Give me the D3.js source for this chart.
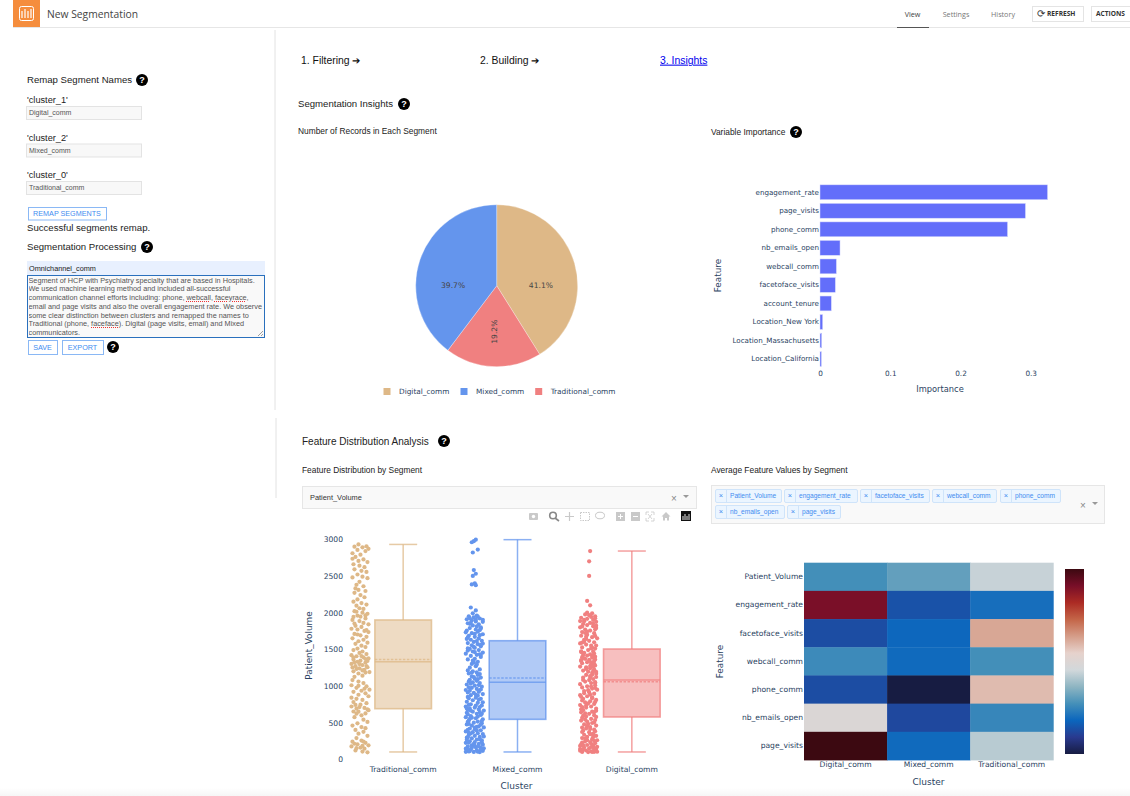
<!DOCTYPE html>
<html>
<head>
<meta charset="utf-8">
<title>New Segmentation</title>
<script src="https://cdn.jsdelivr.net/npm/d3@7"></script>
<style>
  html, body { margin: 0; padding: 0; background: #fff; overflow: hidden; }
  #page { position: relative; width: 1130px; height: 796px; }
  svg { position: absolute; left: 0; top: 0; }
  #notes { position: absolute; left: 28.5px; top: 276.5px; width: 235px; height: 61px; overflow: hidden; white-space: nowrap;
    font: 7.3px/8.8px "Liberation Sans", sans-serif; color: #555; }
  #notes span { text-decoration: underline dotted #e33; }
  .tick text { fill: #2a3f5f; }
</style>
</head>
<body>
<div id="page">
  <svg id="chart" width="1130" height="796"></svg>
  <div id="notes">Segment of HCP with Psychiatry specialty that are based in Hospitals.<br>We used machine learning method and included all-successful<br>communication channel efforts including: phone, <span>webcall</span>, <span>faceyrace</span>,<br>email and page visits and also the overall engagement rate. We observe<br>some clear distinction between clusters and remapped the names to<br>Traditional (phone, <span>faceface</span>). Digital (page visits, email) and Mixed<br>communicators.</div>
</div>
<script>
// segment shares
var pieSegments = ['Digital_comm', 'Traditional_comm', 'Mixed_comm'];
var pieShares = [41.1, 19.2, 39.7];
var legendOrder = ['Digital_comm', 'Mixed_comm', 'Traditional_comm'];
var segmentColors = { Digital_comm: '#deb887', Mixed_comm: '#6495ed', Traditional_comm: '#f08080' };

// variable importance
var importanceFeatures = ['engagement_rate', 'page_visits', 'phone_comm', 'nb_emails_open', 'webcall_comm',
  'facetoface_visits', 'account_tenure', 'Location_New York', 'Location_Massachusetts', 'Location_California'];
var importanceValues = [0.324, 0.2925, 0.267, 0.0285, 0.0233, 0.0218, 0.0161, 0.0038, 0.0024, 0.002];
var importanceTicks = [0, 0.1, 0.2, 0.3];

// box plot, order of the clusters on the axis. The colours really are swapped in the source chart
var boxClusters = ['Traditional_comm', 'Mixed_comm', 'Digital_comm'];
var boxColors = ['#deb887', '#6495ed', '#f08080'];
var boxMin = [100, 100, 100];
var boxQ1 = [690, 545, 577];
var boxMedian = [1330, 1050, 1081];
var boxMean = [1360, 1108, 1058];
var boxQ3 = [1900, 1617, 1504];
var boxMax = [2930, 2995, 2840];
var volumeTicks = [0, 500, 1000, 1500, 2000, 2500, 3000];

// strip points: [Patient_Volume, jitter]
var traditionalPoints = [[2930,-2],[2905,6],[2900,-6],[2890,2],[2870,8],[2855,-3],[2840,5],[2810,-8],[2790,0],[2760,-5],[2735,-8],[2725,3],[2705,-2],[2690,7],[2660,-7],[2640,-1],[2620,4],[2590,-6],[2570,1],[2555,6],[2520,-3],[2490,2],[2480,-8],[2470,7],[2420,-1],[2380,-4],[2360,3],[2330,-5],[2310,-2],[2295,5],[2270,-6],[2240,0],[2210,4],[2180,-3],[2150,-7],[2130,1],[2110,6],[2095,-4],[2060,-1],[2050,3],[2020,-6],[2000,2],[1985,7],[1960,-3],[1945,0],[1920,5],[1900,-8],[1885,-1],[1860,3],[1840,8],[1820,-5],[1805,1],[1780,-9],[1770,-3],[1750,4],[1735,8],[1710,-6],[1690,0],[1670,6],[1650,-8],[1630,3],[1610,-2],[1590,7],[1575,-5],[1550,1],[1530,5],[1510,-3],[1490,-7],[1470,2],[1450,-1],[1435,6],[1420,-9],[1405,-4],[1390,3],[1375,8],[1360,-7],[1345,0],[1330,-3],[1320,5],[1300,-9],[1285,2],[1270,-5],[1255,7],[1240,-1],[1220,4],[1200,-7],[1190,9],[1170,-2],[1140,2],[1125,-6],[1080,-8],[1060,-2],[1040,3],[1010,-9],[995,6],[975,-4],[950,9],[935,1],[920,-7],[900,5],[880,-2],[860,8],[840,-9],[825,-4],[810,2],[780,-7],[765,6],[745,0],[720,-9],[700,4],[690,-4],[670,8],[650,-2],[625,5],[600,1],[575,-6],[540,3],[510,7],[490,-3],[460,-8],[440,1],[425,5],[400,-5],[375,3],[350,-2],[320,7],[290,-4],[255,1],[240,-8],[225,5],[205,-3],[190,8],[175,-9],[160,0],[145,4],[120,-5],[105,2],[95,7],
  [1408,1],[1388,-7],[1368,5],[1342,7],[1322,-6],[1298,-1],[1272,6],[1252,-8],[1232,-4],[1212,2],[1182,5],[1702,-3],[1762,6],[1852,-6],[1942,-7],[742,-5],[712,-1],[682,7],[652,-7],[622,-4],[242,3],[212,-6],[182,2],[152,-4],[962,4],[1002,-2],[1962,5],[2012,-4]];
var mixedPoints = [[2995,1],[2975,-1],[2960,-3],[2860,3],[2820,-2],[2580,-1],[2530,1],[2500,-2],[2400,0],[2385,-3],[2375,1],[2070,-4],[2030,1],[1990,-2],[1960,2],[1950,-6],[1935,-1],[1920,5],[1910,-8],[1895,-3],[1880,1],[1875,8],[1855,-7],[1840,4],[1825,-2],[1800,6],[1790,-5],[1770,1],[1755,-8],[1740,3],[1720,-3],[1705,8],[1685,-6],[1670,0],[1650,4],[1630,-4],[1615,7],[1600,-1],[1585,-7],[1570,3],[1555,-3],[1540,6],[1520,0],[1505,-5],[1490,4],[1470,-2],[1455,8],[1440,-9],[1425,2],[1410,-4],[1395,6],[1370,0],[1345,-2],[1330,3],[1300,-3],[1270,1],[1250,-5],[1225,5],[1200,-2],[1185,2],[1170,-6],[1150,3],[1130,-3],[1115,6],[1100,0],[1085,-5],[1070,2],[1050,-2],[1040,5],[1020,-8],[1005,0],[990,7],[975,-3],[960,2],[945,-9],[935,-5],[920,4],[905,-1],[890,8],[875,-4],[850,-7],[840,1],[825,6],[805,-2],[785,-8],[770,3],[750,-4],[735,7],[720,-9],[705,0],[690,-5],[680,4],[665,9],[650,-2],[635,-8],[620,2],[605,6],[590,-4],[575,-9],[560,1],[545,8],[530,-6],[515,3],[500,-1],[490,7],[475,-8],[460,-3],[450,4],[435,9],[420,-5],[410,0],[395,6],[380,-9],[370,-2],[355,3],[345,8],[330,-6],[320,0],[305,5],[295,-8],[285,-3],[270,2],[260,7],[245,-5],[235,0],[225,-9],[210,4],[200,8],[190,-3],[175,-7],[165,1],[155,6],[145,-9],[135,-4],[125,2],[115,8],[108,-6],[100,-1],[98,5],[102,-9],[128,-7],[150,9],[178,4],[228,-6],[268,-8],[312,9],[362,-6],[402,-7],[442,2],[482,-6],[522,7],[568,-3],[612,-7],[642,5],[672,-7],[712,5],[742,-6],[778,8],[832,-6],[868,3],[912,-7],[952,6],[1012,4],[1062,-6],[1162,5],[1212,-7],[1292,2],[1362,-7],[1432,5],[1482,-7],[1532,-1],[1578,8],[1642,-8],[1692,5],[1732,-9],[1782,6],[1848,-5],[1902,8],
  [1945,3],[1925,-5],[1905,1],[1860,-4],[1812,2],[1762,5],[1712,0],[1662,-7],[1612,2],[1562,6],[1512,-7],[1462,0],[1422,6],[1322,-1],[1182,-3],[1122,-1],[1092,3],[1032,-4],[982,-6],[932,4],[882,1],[812,4],[732,1],[692,-8],[662,-4],[622,7],[582,3],[552,-5],[512,-7],[472,6],[432,0],[392,2],[352,-4],[302,-7],[272,5],[232,7],[212,-1],[182,0],[158,-3],[132,6],[112,-5],[104,3]];
var digitalPoints = [[2840,1],[2700,0],[2500,0],[2160,-2],[2100,1],[2000,-2],[1990,3],[1975,-4],[1965,0],[1950,6],[1930,-8],[1915,-2],[1900,4],[1885,-9],[1875,7],[1860,1],[1845,-6],[1830,-2],[1815,4],[1800,-9],[1790,7],[1770,-4],[1755,1],[1735,-7],[1720,5],[1700,-2],[1685,-8],[1665,3],[1650,8],[1630,-5],[1615,0],[1595,5],[1580,-9],[1565,-3],[1550,2],[1525,-7],[1510,6],[1490,-1],[1470,4],[1450,-5],[1430,1],[1415,-2],[1400,6],[1385,3],[1370,-4],[1355,0],[1340,5],[1325,-2],[1310,-7],[1295,2],[1280,6],[1265,-9],[1255,-3],[1240,1],[1225,5],[1210,-6],[1195,-1],[1180,3],[1165,7],[1150,-3],[1135,1],[1115,-6],[1095,4],[1080,0],[1060,-4],[1040,2],[1025,-9],[1010,6],[995,-2],[980,-7],[965,3],[950,8],[930,-5],[915,0],[895,5],[875,-9],[860,-2],[845,3],[825,-6],[810,7],[790,1],[775,-4],[755,5],[740,-9],[720,2],[705,-3],[690,7],[670,-6],[650,3],[640,-8],[620,0],[600,5],[585,-3],[565,-7],[550,2],[535,6],[515,-2],[495,3],[475,-5],[460,7],[440,1],[420,-3],[405,5],[390,-6],[370,0],[350,4],[335,-5],[320,7],[305,-2],[290,-7],[275,3],[260,8],[245,-4],[235,1],[220,6],[205,-8],[195,-2],[185,4],[170,8],[160,-5],[150,0],[140,-9],[130,5],[120,-3],[110,2],[103,8],[100,-7],[98,-1],[102,5],[118,-9],[142,7],[168,2],[192,-6],[228,-7],[262,-2],[302,4],[342,1],[382,6],[432,-7],[482,-1],[528,-8],[578,7],[628,-4],[662,7],[712,-7],[762,-1],[802,-7],[852,-8],[902,-5],[972,6],[1052,6],[1122,7],[1202,4],[1272,1],[1352,-8],[1392,-7],[1422,-6],[1462,-8],[1522,3],[1602,-5],[1672,-3],[1742,-2],[1822,7],[1902,-5],
  [1942,2],[1922,6],[1882,-5],[1852,4],[1812,-7],[1772,6],[1722,-4],[1682,6],[1642,-3],[1592,-7],[1552,7],[1512,2],[1472,-8],[1442,5],[1412,3],[1382,-6],[1362,6],[1342,-8],[1322,2],[1302,5],[1262,4],[1232,-3],[1192,7],[1152,3],[1112,1],[1082,-6],[1042,6],[992,2],[942,-1],[882,1],[832,3],[782,6],[732,-3],[682,-8],[642,5],[592,-6],[542,-4],[502,5],[452,-2],[412,1],[372,-7],[332,4],[282,-4],[252,5],[212,2],[182,-9],[152,5],[132,-6],[112,7],[100,3]];
var stripPoints = [traditionalPoints, mixedPoints, digitalPoints];

// average feature values, scaled 0 to 1
var heatClusters = ['Digital_comm', 'Mixed_comm', 'Traditional_comm'];
var heatFeatures = ['Patient_Volume', 'engagement_rate', 'facetoface_visits', 'webcall_comm', 'phone_comm', 'nb_emails_open', 'page_visits'];
var heatDigital = [0.27, 0.905, 0.13, 0.26, 0.13, 0.49, 1];
var heatMixed = [0.31, 0.14, 0.185, 0.19, 0, 0.12, 0.19];
var heatTraditional = [0.44, 0.2, 0.62, 0.27, 0.585, 0.25, 0.42];
var balanceColors = ['rgb(23,28,66)', 'rgb(41,58,143)', 'rgb(11,102,189)', 'rgb(69,144,185)', 'rgb(142,181,194)', 'rgb(210,216,219)',
  'rgb(230,210,204)', 'rgb(213,157,137)', 'rgb(196,101,72)', 'rgb(172,43,36)', 'rgb(120,14,40)', 'rgb(60,9,17)'];

var plotFont = '"DejaVu Sans", Verdana, sans-serif';
var uiFont = '"Liberation Sans", Arial, sans-serif';
var headFont = '"Open Sans", sans-serif';
var svg = d3.select('#chart');

function label(x, y, str, size, color, font, anchor) {
  return svg.append('text').attr('x', x).attr('y', y).attr('dy', '.35em')
    .attr('text-anchor', anchor || 'start')
    .style('font', size + 'px ' + (font || uiFont))
    .attr('fill', color || '#222').text(str);
}
function helpIcon(x, y) {
  svg.append('circle').attr('cx', x).attr('cy', y).attr('r', 6).attr('fill', '#000');
  label(x, y, '?', 9, '#fff', uiFont, 'middle').style('font', 'bold 9px ' + uiFont);
}
function box(x, y, w, h, fill, stroke) {
  return svg.append('rect').attr('x', x).attr('y', y).attr('width', w).attr('height', h)
    .attr('fill', fill).attr('stroke', stroke).attr('stroke-width', 1);
}
function button(x, y, w, h, str) {
  box(x + 0.5, y + 0.5, w, h, '#fff', '#8ab8f5');
  label(x + w / 2, y + h / 2 + 0.5, str, 7.2, '#3f8cf0', uiFont, 'middle');
}
function rotatedTitle(x, y, str) {
  svg.append('text').attr('transform', 'translate(' + x + ',' + y + ') rotate(-90)')
    .attr('text-anchor', 'middle').style('font', '8.9px ' + plotFont).attr('fill', '#2a3f5f').text(str);
}
function cleanAxis(g, size) {
  g.select('.domain').remove();
  g.selectAll('.tick line').remove();
  g.selectAll('text').style('font', size + 'px ' + plotFont);
}

// top bar
box(13, 0, 27, 27, '#f58d3d', 'none');
box(19.5, 6.5, 14, 14, 'none', '#fff').attr('rx', 2);
[22, 25, 28, 31].forEach(function (x, i) {
  svg.append('line').attr('x1', x).attr('x2', x).attr('y1', i % 2 ? 9 : 11).attr('y2', 18).attr('stroke', '#fff').attr('stroke-width', 1.2);
});
label(47, 14, 'New Segmentation', 10.3, '#444', headFont);
svg.append('line').attr('x1', 13).attr('x2', 1130).attr('y1', 27.5).attr('y2', 27.5).attr('stroke', '#e6e6e6');
svg.append('line').attr('x1', 897).attr('x2', 929).attr('y1', 27.5).attr('y2', 27.5).attr('stroke', '#555');
label(912.5, 14, 'View', 7.2, '#444', headFont, 'middle');
label(956, 14, 'Settings', 7.2, '#777', headFont, 'middle');
label(1003, 14, 'History', 7.2, '#777', headFont, 'middle');
box(1032.5, 6.5, 51, 15, '#fff', '#e4e4e4');
label(1041, 13.5, '⟳', 10, '#333', uiFont, 'middle');
label(1047, 14, 'REFRESH', 6.6, '#333', headFont).style('font', 'bold 6.6px ' + headFont);
box(1091.5, 6.5, 42, 15, '#fff', '#e4e4e4');
label(1096, 14, 'ACTIONS', 6.6, '#333', headFont).style('font', 'bold 6.6px ' + headFont);

// panel dividers
svg.append('line').attr('x1', 275).attr('x2', 275).attr('y1', 30).attr('y2', 410).attr('stroke', '#e2e2e2');
svg.append('line').attr('x1', 276).attr('x2', 276).attr('y1', 418).attr('y2', 498).attr('stroke', '#e2e2e2');

// left panel
label(27, 80, 'Remap Segment Names', 9.6);
helpIcon(142, 80);
var remapKeys = ["'cluster_1'", "'cluster_2'", "'cluster_0'"];
var remapNames = ['Digital_comm', 'Mixed_comm', 'Traditional_comm'];
var remapTop = [106, 143.5, 181];
remapKeys.forEach(function (k, i) {
  label(27, remapTop[i] - 6, k, 9.2);
  box(26.5, remapTop[i] + 0.5, 115, 13, '#f8f8f8', '#e3e3e3');
  label(29, remapTop[i] + 7, remapNames[i], 7, '#555');
});
button(28, 207, 78, 12.5, 'REMAP SEGMENTS');
label(27, 227.5, 'Successful segments remap.', 9.6);
label(27, 247, 'Segmentation Processing', 9.6);
helpIcon(147, 247);
box(27, 261, 238, 14, '#e8f0fe', 'none');
label(29, 268, 'Omnichannel_comm', 7.3, '#222');
box(27.5, 275.5, 237, 62, '#f9f9f9', '#2a70bd');
svg.append('path').attr('d', 'M258 336L263 331M261 336L263 334').attr('stroke', '#777').attr('stroke-width', 0.7);
button(28, 340, 29, 14, 'SAVE');
button(62, 340, 41, 14, 'EXPORT');
helpIcon(113, 347);

// page headings
label(301, 60, '1. Filtering ➔', 10.4, '#111');
label(480, 60, '2. Building ➔', 10.4, '#111');
label(660, 60, '3. Insights', 10.4, '#0000ee').style('text-decoration', 'underline');
label(298, 104, 'Segmentation Insights', 9.6);
helpIcon(404, 104);
label(298, 131, 'Number of Records in Each Segment', 8.4);
label(711, 132, 'Variable Importance', 8.4);
helpIcon(796, 132);
label(302, 441, 'Feature Distribution Analysis', 10);
helpIcon(444, 441);
label(302, 470, 'Feature Distribution by Segment', 8.4);
label(711, 470, 'Average Feature Values by Segment', 8.4);

// pie
var pieGroup = svg.append('g').attr('transform', 'translate(496.7,285.7)');
var pieArcs = d3.pie().sort(null)(pieShares);
var pieArc = d3.arc().innerRadius(0).outerRadius(81);
var labelArc = d3.arc().innerRadius(46).outerRadius(46);
pieGroup.selectAll('path').data(pieArcs).enter().append('path')
  .attr('d', pieArc)
  .attr('fill', function (d, i) { return segmentColors[pieSegments[i]]; })
  .attr('stroke', '#fff').attr('stroke-width', 0.3);
pieGroup.selectAll('text').data(pieArcs).enter().append('text')
  .attr('transform', function (d, i) {
    var c = labelArc.centroid(d);
    // the narrow slice gets its label turned, plotly style
    return pieShares[i] < 25 ? 'translate(' + c[0] + ',' + c[1] + ') rotate(-90)' : 'translate(' + c[0] + ',0)';
  })
  .attr('dy', '.35em').attr('text-anchor', 'middle')
  .style('font', '7.6px ' + plotFont).attr('fill', '#444')
  .text(function (d, i) { return pieShares[i].toFixed(1) + '%'; });

var legendStep = { Digital_comm: 387, Mixed_comm: 464, Traditional_comm: 538.7 };
legendOrder.forEach(function (name) {
  box(legendStep[name] - 3.5, 388, 7, 7, segmentColors[name], 'none');
  label(legendStep[name] + 12, 391.5, name, 7.35, '#2a3f5f', plotFont);
});

// importance bars
var barX = d3.scaleLinear().domain([0, 0.3]).range([820, 1030.7]);
var barY = d3.scaleBand().domain(importanceFeatures).range([183, 368.3]).paddingInner(0.2).paddingOuter(0.1);
svg.selectAll('.imp-bar').data(importanceValues).enter().append('rect')
  .attr('class', 'imp-bar')
  .attr('x', barX(0))
  .attr('y', function (d, i) { return barY(importanceFeatures[i]); })
  .attr('width', function (d) { return barX(d) - barX(0); })
  .attr('height', barY.bandwidth())
  .attr('fill', '#636efa').attr('stroke', '#d6d9fb').attr('stroke-width', 0.5);
svg.append('g').attr('transform', 'translate(820,0)')
  .call(d3.axisLeft(barY).tickSize(0).tickPadding(1))
  .call(cleanAxis, 7.15);
svg.append('g').attr('transform', 'translate(0,370)')
  .call(d3.axisBottom(barX).tickValues(importanceTicks).tickFormat(function (d) { return d === 0 ? '0' : d3.format('.1f')(d); }).tickSize(0).tickPadding(1))
  .call(cleanAxis, 7.3);
label(940, 389, 'Importance', 8.3, '#2a3f5f', plotFont, 'middle');
rotatedTitle(721, 275.5, 'Feature');

// feature selector + modebar
box(302.5, 486.5, 394, 22, '#f9f9f9', '#e6e6e6');
label(310, 497, 'Patient_Volume', 7.4, '#333');
label(674, 498, '×', 10, '#888', uiFont, 'middle');
svg.append('path').attr('d', 'M683 495h6l-3 3z').attr('fill', '#999');

var modeGrey = '#c9c9c9';
svg.append('rect').attr('x', 529).attr('y', 513).attr('width', 9).attr('height', 7).attr('fill', modeGrey).attr('rx', 1);
svg.append('circle').attr('cx', 533.5).attr('cy', 516.5).attr('r', 1.7).attr('fill', '#fff');
svg.append('circle').attr('cx', 553).attr('cy', 515.5).attr('r', 3.3).attr('fill', 'none').attr('stroke', '#888').attr('stroke-width', 1.6);
svg.append('line').attr('x1', 555).attr('y1', 518).attr('x2', 559).attr('y2', 521).attr('stroke', '#888').attr('stroke-width', 1.6);
svg.append('path').attr('d', 'M565 516.5h9M569.5 512v9').attr('stroke', modeGrey).attr('stroke-width', 1.2);
svg.append('rect').attr('x', 580.5).attr('y', 512.5).attr('width', 9).attr('height', 8).attr('fill', 'none').attr('stroke', modeGrey).attr('stroke-dasharray', '1.5 1');
svg.append('ellipse').attr('cx', 600).attr('cy', 515.5).attr('rx', 4.5).attr('ry', 3.3).attr('fill', 'none').attr('stroke', modeGrey);
svg.append('rect').attr('x', 616).attr('y', 512).attr('width', 9).attr('height', 9).attr('fill', modeGrey);
svg.append('path').attr('d', 'M618 516.5h5M620.5 514v5').attr('stroke', '#fff');
svg.append('rect').attr('x', 631).attr('y', 512).attr('width', 9).attr('height', 9).attr('fill', modeGrey);
svg.append('path').attr('d', 'M633 516.5h5').attr('stroke', '#fff');
svg.append('path').attr('d', 'M646 512h3M646 512v3M654 512h-3M654 512v3M646 521h3M646 521v-3M654 521h-3M654 521v-3M648 514l4 5M652 514l-4 5').attr('stroke', modeGrey).attr('fill', 'none').attr('stroke-width', 0.8);
svg.append('path').attr('d', 'M666 512l-4.5 4.5h1.5v4h2v-2.5h2v2.5h2v-4h1.5z').attr('fill', modeGrey);
svg.append('rect').attr('x', 681).attr('y', 511).attr('width', 10).attr('height', 10).attr('fill', '#111');
[683, 685, 687, 689].forEach(function (x, i) {
  svg.append('line').attr('x1', x).attr('x2', x).attr('y1', i % 2 ? 514 : 516).attr('y2', 520).attr('stroke', '#fff').attr('stroke-width', 0.9);
});

// box plot
var boxX = d3.scaleBand().domain(boxClusters).range([346, 689]);
var boxY = d3.scaleLinear().domain([0, 3000]).range([759.3, 539.3]);
var jitter = d3.scaleLinear().domain([-10, 10]).range([-10, 10]);
var boxHalf = 28.3;
var capHalf = 14;
var stripShift = -42.7;

boxClusters.forEach(function (cluster, i) {
  var cx = boxX(cluster) + boxX.bandwidth() / 2;
  var color = boxColors[i];
  var g = svg.append('g').attr('class', 'cluster');
  g.selectAll('circle').data(stripPoints[i]).enter().append('circle')
    .attr('cx', function (d) { return cx + stripShift + jitter(d[1]); })
    .attr('cy', function (d) { return boxY(d[0]); })
    .attr('r', 2.1).attr('fill', color);
  var stroke = d3.color(color);
  stroke.opacity = 0.75;
  g.append('rect').attr('x', cx - boxHalf).attr('width', boxHalf * 2)
    .attr('y', boxY(boxQ3[i])).attr('height', boxY(boxQ1[i]) - boxY(boxQ3[i]))
    .attr('fill', color).attr('fill-opacity', 0.5).attr('stroke', stroke).attr('stroke-width', 1.6);
  var seg = function (x1, x2, v1, v2, dash) {
    g.append('line').attr('x1', x1).attr('x2', x2).attr('y1', boxY(v1)).attr('y2', boxY(v2))
      .attr('stroke', stroke).attr('stroke-width', 1.5).attr('stroke-dasharray', dash || null);
  };
  seg(cx, cx, boxQ3[i], boxMax[i]);
  seg(cx, cx, boxQ1[i], boxMin[i]);
  seg(cx - capHalf, cx + capHalf, boxMax[i], boxMax[i]);
  seg(cx - capHalf, cx + capHalf, boxMin[i], boxMin[i]);
  seg(cx - boxHalf, cx + boxHalf, boxMedian[i], boxMedian[i]);
  seg(cx - boxHalf, cx + boxHalf, boxMean[i], boxMean[i], '2.5 1.5');
});
svg.append('g').attr('transform', 'translate(344,0)')
  .call(d3.axisLeft(boxY).tickValues(volumeTicks).tickFormat(d3.format('d')).tickSize(0).tickPadding(1))
  .call(cleanAxis, 7.6);
svg.append('g').attr('transform', 'translate(0,766)')
  .call(d3.axisBottom(boxX).tickSize(0).tickPadding(1))
  .call(cleanAxis, 7.6);
rotatedTitle(312, 645.5, 'Patient_Volume');
label(516.5, 786, 'Cluster', 9, '#2a3f5f', plotFont, 'middle');

// multi select chips
box(711.5, 485.5, 393, 38, '#f9f9f9', '#e6e6e6');
var chipNames = ['Patient_Volume', 'engagement_rate', 'facetoface_visits', 'webcall_comm', 'phone_comm', 'nb_emails_open', 'page_visits'];
var chipLeft = [715, 784, 860, 932, 1000, 715, 787];
var chipRight = [781, 857, 929, 996, 1060, 784, 840];
var chipRow = [489, 489, 489, 489, 489, 505, 505];
chipNames.forEach(function (name, i) {
  box(chipLeft[i] + 0.5, chipRow[i] + 0.5, chipRight[i] - chipLeft[i], 13, '#ebf5ff', '#cfe4fa').attr('rx', 1.5);
  svg.append('line').attr('x1', chipLeft[i] + 11.5).attr('x2', chipLeft[i] + 11.5).attr('y1', chipRow[i] + 0.5).attr('y2', chipRow[i] + 13.5).attr('stroke', '#cfe4fa');
  label(chipLeft[i] + 6, chipRow[i] + 6.6, '×', 7.5, '#3f8cf0', uiFont, 'middle');
  label(chipLeft[i] + 15, chipRow[i] + 7, name, 6.6, '#3f8cf0');
});
label(1083, 505.5, '×', 10, '#888', uiFont, 'middle');
svg.append('path').attr('d', 'M1092 502h6l-3 3z').attr('fill', '#999');

// heatmap
var heatRows = [heatDigital, heatMixed, heatTraditional];
var heatX = d3.scaleBand().domain(heatClusters).range([804, 1053.3]);
var heatY = d3.scaleBand().domain(heatFeatures).range([562.7, 760]);
var heatColor = d3.scaleLinear()
  .domain(balanceColors.map(function (c, i) { return i / (balanceColors.length - 1); }))
  .range(balanceColors);
heatClusters.forEach(function (cluster, c) {
  svg.selectAll('.cell-' + c).data(heatRows[c]).enter().append('rect')
    .attr('class', 'cell-' + c)
    .attr('x', heatX(cluster))
    .attr('y', function (d, r) { return heatY(heatFeatures[r]); })
    .attr('width', heatX.bandwidth() + 0.4)
    .attr('height', heatY.bandwidth() + 0.4)
    .attr('fill', function (d) { return heatColor(d); });
});
svg.append('g').attr('transform', 'translate(803,0)')
  .call(d3.axisLeft(heatY).tickSize(0).tickPadding(0))
  .call(cleanAxis, 7.6);
svg.append('g').attr('transform', 'translate(0,761.5)')
  .call(d3.axisBottom(heatX).tickSize(0).tickPadding(0))
  .call(cleanAxis, 7.6);
rotatedTitle(723, 661.5, 'Feature');
label(928.5, 782, 'Cluster', 9, '#2a3f5f', plotFont, 'middle');

// colour bar
var grad = svg.append('defs').append('linearGradient').attr('id', 'balance')
  .attr('x1', 0).attr('x2', 0).attr('y1', 1).attr('y2', 0);
balanceColors.forEach(function (c, i) {
  grad.append('stop').attr('offset', i / (balanceColors.length - 1)).attr('stop-color', c);
});
svg.append('rect').attr('x', 1065).attr('y', 569).attr('width', 19).attr('height', 185).attr('fill', 'url(#balance)');

// faint fade at the bottom of the screenshot
var fade = svg.select('defs').append('linearGradient').attr('id', 'fade').attr('x1', 0).attr('x2', 0).attr('y1', 0).attr('y2', 1);
fade.append('stop').attr('offset', 0).attr('stop-color', '#f6f6f6').attr('stop-opacity', 0);
fade.append('stop').attr('offset', 1).attr('stop-color', '#f6f6f6').attr('stop-opacity', 1);
svg.append('rect').attr('x', 0).attr('y', 788).attr('width', 1130).attr('height', 8).attr('fill', 'url(#fade)');
</script>
</body>
</html>
